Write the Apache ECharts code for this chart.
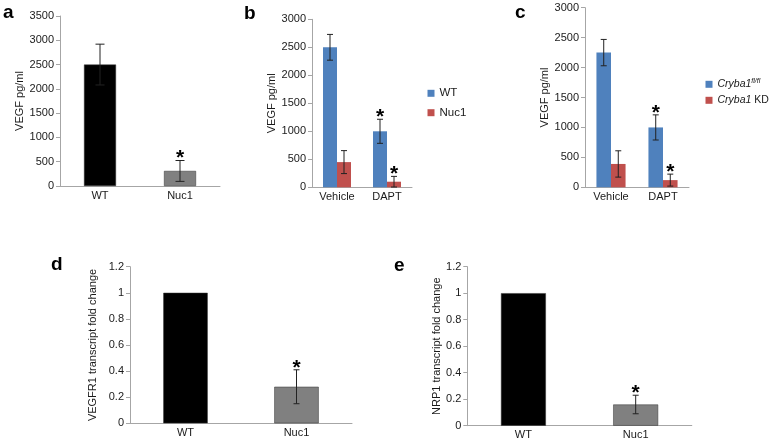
<!DOCTYPE html>
<html><head><meta charset="utf-8">
<script src="https://cdn.jsdelivr.net/npm/echarts@6/dist/echarts.min.js"></script>
<style>html,body{margin:0;padding:0;background:#fff}#c{width:774px;height:442px}</style>
</head><body><div id="c"></div>
<script>
// ---- data ----
const catsA = ['WT', 'Nuc1'];
const valsA = [2500, 310];
const errA = [420, 215];
const sigA = [0, 1];

const catsB = ['Vehicle', 'DAPT'];
const bWT = [2500, 1000];
const bWTErr = [230, 215];
const bWTSig = [0, 1];
const bNuc = [450, 100];
const bNucErr = [205, 95];
const bNucSig = [0, 1];

const catsC = ['Vehicle', 'DAPT'];
const cFl = [2250, 1000];
const cFlErr = [220, 210];
const cFlSig = [0, 1];
const cKD = [390, 120];
const cKDErr = [220, 100];
const cKDSig = [0, 1];

const catsD = ['WT', 'Nuc1'];
const valsD = [1, 0.28];
const errD = [0, 0.13];
const sigD = [0, 1];

const catsE = ['WT', 'Nuc1'];
const valsE = [1, 0.16];
const errE = [0, 0.07];
const sigE = [0, 1];

// ---- styles ----
const FONT = 'Liberation Sans, Arial, sans-serif';
const BLACK = '#000000', GRAY = '#808080', BLUE = '#4f81bd', RED = '#c0504d';
const AXIS = '#a6a6a6', TXT = '#1a1a1a';
const pairColors = [BLACK, GRAY];

function errSeries(gi, vals, errs, sigs, off, capW) {
  return {
    type: 'custom', xAxisIndex: gi, yAxisIndex: gi, z: 5,
    data: vals.map((v, i) => [i, v, errs[i], sigs[i]]),
    renderItem: function (params, api) {
      const x = api.value(0), v = api.value(1), e = api.value(2), s = api.value(3);
      const band = api.size([1, 0])[0];
      const cx = api.coord([x, v])[0] + off * band;
      const top = api.coord([x, v + e])[1];
      const bot = api.coord([x, Math.max(v - e, 0)])[1];
      const ch = [];
      const ls = { stroke: '#222', lineWidth: 1 };
      if (e > 0) {
        ch.push({ type: 'line', shape: { x1: cx, y1: top, x2: cx, y2: bot }, style: ls });
        ch.push({ type: 'line', shape: { x1: cx - capW / 2, y1: top, x2: cx + capW / 2, y2: top }, style: ls });
        ch.push({ type: 'line', shape: { x1: cx - capW / 2, y1: bot, x2: cx + capW / 2, y2: bot }, style: ls });
      }
      if (s) {
        ch.push({ type: 'text', style: { text: '*', x: cx, y: top - 2, textAlign: 'center', textVerticalAlign: 'middle', font: 'bold 21px ' + FONT, fill: '#000' } });
      }
      return { type: 'group', children: ch };
    }
  };
}

function xAx(gi, cats, fs) {
  return {
    type: 'category', gridIndex: gi, data: cats,
    axisLine: { lineStyle: { color: AXIS, width: 1 } },
    axisTick: { show: false },
    axisLabel: { color: TXT, fontSize: fs, fontFamily: FONT, margin: 4 }
  };
}
function yAx(gi, max, interval, name, gap, fs) {
  return {
    type: 'value', gridIndex: gi, min: 0, max: max, interval: interval,
    name: name, nameLocation: 'middle', nameGap: gap, nameRotate: 90,
    nameTextStyle: { color: TXT, fontSize: fs, fontFamily: FONT },
    splitLine: { show: false },
    axisLine: { show: true, lineStyle: { color: AXIS, width: 1 } },
    axisTick: { show: true, length: 4, lineStyle: { color: AXIS } },
    axisLabel: { color: TXT, fontSize: fs, fontFamily: FONT, margin: 6,
      formatter: function (v) { return String(+Number(v).toFixed(6)); } }
  };
}

const chart = echarts.init(document.getElementById('c'), null, { renderer: 'canvas' });
const band3 = (1 - 0.44) / 4; // offset of grouped bars as a fraction of band width

chart.setOption({
  animation: false,
  backgroundColor: '#fff',
  grid: [
    { left: 60, top: 16, width: 160, height: 170 },
    { left: 312, top: 19.3, width: 100, height: 168 },
    { left: 585, top: 7.7, width: 104, height: 179.6 },
    { left: 130, top: 266.7, width: 222, height: 156.6 },
    { left: 467.3, top: 266.7, width: 224.5, height: 159 }
  ],
  xAxis: [xAx(0, catsA, 11), xAx(1, catsB, 11), xAx(2, catsC, 11), xAx(3, catsD, 11), xAx(4, catsE, 11)],
  yAxis: [
    yAx(0, 3500, 500, 'VEGF pg/ml', 30, 11),
    yAx(1, 3000, 500, 'VEGF pg/ml', 33, 11),
    yAx(2, 3000, 500, 'VEGF pg/ml', 26, 11),
    yAx(3, 1.2, 0.2, 'VEGFR1 transcript fold change', 32, 11),
    yAx(4, 1.2, 0.2, 'NRP1 transcript fold change', 23, 11)
  ],
  legend: [
    { orient: 'vertical', left: 427.5, top: 86.3, padding: 0, itemWidth: 7, itemHeight: 7, itemGap: 5.4, icon: 'rect',
      data: ['WT', 'Nuc1'], textStyle: { color: TXT, fontSize: 11.5, fontFamily: FONT, lineHeight: 14 } },
    { orient: 'vertical', left: 705.5, top: 77.3, padding: 0, itemWidth: 7, itemHeight: 7, itemGap: 2, icon: 'rect',
      data: ['Cryba1 fl/fl', 'Cryba1 KD'],
      formatter: function (n) { return n === 'Cryba1 fl/fl' ? '{i|Cryba1}{s|fl/fl}' : '{i|Cryba1} KD'; },
      textStyle: { color: TXT, fontSize: 10.5, fontFamily: FONT, lineHeight: 14,
        rich: { i: { fontStyle: 'italic', fontSize: 10.5, fontFamily: FONT, lineHeight: 14 },
                s: { fontStyle: 'italic', fontSize: 7, fontFamily: FONT, verticalAlign: 'top', lineHeight: 14 } } } }
  ],
  graphic: [
    { type: 'text', left: 3, top: 3, style: { text: 'a', font: 'bold 19px ' + FONT, fill: '#000' } },
    { type: 'text', left: 244, top: 4, style: { text: 'b', font: 'bold 19px ' + FONT, fill: '#000' } },
    { type: 'text', left: 515, top: 3, style: { text: 'c', font: 'bold 19px ' + FONT, fill: '#000' } },
    { type: 'text', left: 51, top: 255, style: { text: 'd', font: 'bold 19px ' + FONT, fill: '#000' } },
    { type: 'text', left: 394, top: 256, style: { text: 'e', font: 'bold 19px ' + FONT, fill: '#000' } }
  ],
  series: [
    { name: 'A', type: 'bar', xAxisIndex: 0, yAxisIndex: 0, barCategoryGap: '60%',
      data: valsA.map((v, i) => ({ value: v, itemStyle: { color: pairColors[i] } })),
      itemStyle: { borderColor: '#333', borderWidth: 0.5 } },
    errSeries(0, valsA, errA, sigA, 0, 9),

    { name: 'WT', type: 'bar', xAxisIndex: 1, yAxisIndex: 1, data: bWT, barGap: '0%', barCategoryGap: '44%', itemStyle: { color: BLUE } },
    { name: 'Nuc1', type: 'bar', xAxisIndex: 1, yAxisIndex: 1, data: bNuc, barGap: '0%', barCategoryGap: '44%', itemStyle: { color: RED } },
    errSeries(1, bWT, bWTErr, bWTSig, -band3, 6),
    errSeries(1, bNuc, bNucErr, bNucSig, band3, 6),

    { name: 'Cryba1 fl/fl', type: 'bar', xAxisIndex: 2, yAxisIndex: 2, data: cFl, barGap: '0%', barCategoryGap: '44%', itemStyle: { color: BLUE } },
    { name: 'Cryba1 KD', type: 'bar', xAxisIndex: 2, yAxisIndex: 2, data: cKD, barGap: '0%', barCategoryGap: '44%', itemStyle: { color: RED } },
    errSeries(2, cFl, cFlErr, cFlSig, -band3, 6),
    errSeries(2, cKD, cKDErr, cKDSig, band3, 6),

    { name: 'D', type: 'bar', xAxisIndex: 3, yAxisIndex: 3, barCategoryGap: '60%',
      data: valsD.map((v, i) => ({ value: v, itemStyle: { color: pairColors[i] } })),
      itemStyle: { borderColor: '#333', borderWidth: 0.5 } },
    errSeries(3, valsD, errD, sigD, 0, 6),

    { name: 'E', type: 'bar', xAxisIndex: 4, yAxisIndex: 4, barCategoryGap: '60%',
      data: valsE.map((v, i) => ({ value: v, itemStyle: { color: pairColors[i] } })),
      itemStyle: { borderColor: '#333', borderWidth: 0.5 } },
    errSeries(4, valsE, errE, sigE, 0, 6)
  ]
});
</script></body></html>
